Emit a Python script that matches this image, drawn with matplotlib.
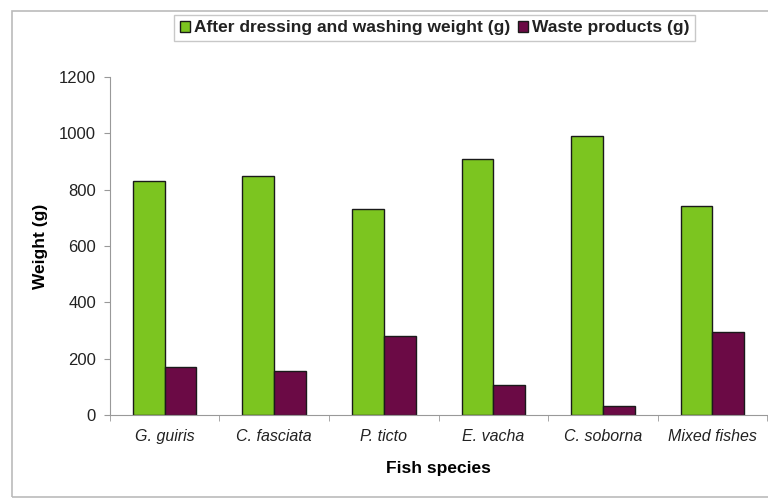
import numpy as np
import matplotlib.pyplot as plt
from matplotlib.patches import Rectangle

species = ['G. guiris', 'C. fasciata', 'P. ticto', 'E. vacha', 'C. soborna', 'Mixed fishes']
dressed = [830, 848, 730, 909, 991, 741]
waste = [170, 158, 281, 106, 31, 295]

plt.rcParams['font.family'] = ['Liberation Sans', 'DejaVu Sans']
plt.rcParams['text.color'] = '#222222'
plt.rcParams['xtick.labelcolor'] = '#222222'
plt.rcParams['ytick.labelcolor'] = '#222222'

fig = plt.figure(figsize=(7.68, 4.99), dpi=100)
ax = fig.add_axes([0.143, 0.168, 0.856, 0.678])

x = np.arange(len(species))
w = 0.29
ax.bar(x - w / 2, dressed, w, color='#7CC520', edgecolor='#1a1a1a', linewidth=1,
       label='After dressing and washing weight (g)')
ax.bar(x + w / 2, waste, w, color='#6B0A45', edgecolor='#1a1a1a', linewidth=1,
       label='Waste products (g)')

ax.set_xlim(-0.5, len(species) - 0.5)
ax.set_ylim(0, 1200)
ax.set_yticks(range(0, 1201, 200))
ax.set_xticks(x)
ax.set_xticklabels(species, style='italic', fontsize=11.5)
ax.set_xticks(np.arange(-0.5, len(species)), minor=True)
ax.tick_params(axis='x', which='major', length=0, pad=10)
ax.tick_params(axis='x', which='minor', length=4, color='#999999')
ax.tick_params(axis='y', length=4, color='#999999', labelsize=12, pad=6)

for side in ['top', 'right']:
    ax.spines[side].set_visible(False)
for side in ['left', 'bottom']:
    ax.spines[side].set_color('#999999')

ax.set_xlabel('Fish species', fontweight='bold', fontsize=12.5, labelpad=12)
ax.set_ylabel('Weight (g)', fontweight='bold', fontsize=12.5, labelpad=8)

# outer chart frame
fig.patches.append(Rectangle((0.016, 0.004), 1.1, 0.974, transform=fig.transFigure,
                             fill=False, edgecolor='#bbbbbb', linewidth=1.2))

leg = fig.legend(loc='center', bbox_to_anchor=(0.566, 0.944), ncol=2,
                 prop={'weight': 'bold', 'size': 12.5}, frameon=True, fancybox=False,
                 handlelength=0.6, handleheight=0.6, handletextpad=0.25,
                 columnspacing=0.4, borderpad=0.3, edgecolor='#bbbbbb')
leg.get_frame().set_linewidth(1)

fig.savefig('out.png', dpi=100)
